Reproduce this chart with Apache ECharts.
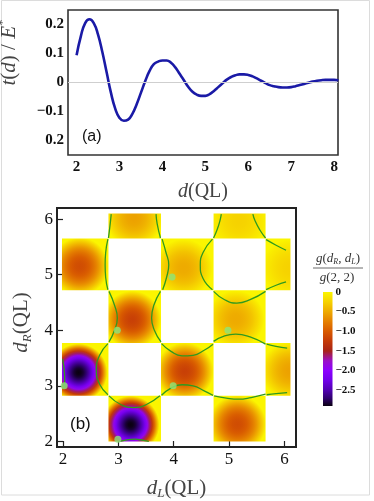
<!DOCTYPE html>
<html>
<head>
<meta charset="utf-8">
<script src="https://cdn.jsdelivr.net/npm/echarts@6/dist/echarts.min.js"></script>
<style>
  html, body { margin: 0; padding: 0; background: #fff; }
  #chart { width: 374px; height: 501px; }
</style>
</head>
<body>
<div id="chart"></div>
<script>
// panel (a): t(d) / E*
const dValues = [2.0, 2.1, 2.2, 2.3, 2.4, 2.5, 2.6, 2.7, 2.8, 2.9, 3.0, 3.1, 3.2, 3.3, 3.4, 3.5, 3.6, 3.7, 3.8, 3.9,
  4.0, 4.1, 4.2, 4.3, 4.4, 4.5, 4.6, 4.7, 4.8, 4.9, 5.0, 5.1, 5.2, 5.3, 5.4, 5.5, 5.6, 5.7, 5.8, 5.9,
  6.0, 6.1, 6.2, 6.3, 6.4, 6.5, 6.6, 6.7, 6.8, 6.9, 7.0, 7.1, 7.2, 7.3, 7.4, 7.5, 7.6, 7.7, 7.8, 7.9, 8.0, 8.1]
const tValues = [0.094, 0.16, 0.205, 0.218, 0.205, 0.165, 0.105, 0.035, -0.035, -0.09, -0.122, -0.132, -0.128, -0.108, -0.075, -0.035, 0.005, 0.04, 0.063, 0.072,
  0.076, 0.076, 0.068, 0.052, 0.03, 0.008, -0.015, -0.032, -0.042, -0.046, -0.046, -0.04, -0.029, -0.016, -0.003, 0.01, 0.019, 0.025, 0.028, 0.028,
  0.026, 0.021, 0.014, 0.006, -0.002, -0.009, -0.013, -0.016, -0.017, -0.017, -0.016, -0.013, -0.009, -0.005, -0.001, 0.003, 0.006, 0.008, 0.009, 0.009, 0.009, 0.008]
const dTicks = [2, 3, 4, 5, 6, 7, 8]
const tTicks = [-0.2, -0.1, 0, 0.1, 0.2]
const tTickLabels = ['0.2', '−0.1', '0', '0.1', '0.2']

// panel (b): g(dR, dL) / g(2, 2)
const edgesL = [1.98, 2.82, 3.77, 4.72, 5.66, 6.11]
const edgesR = [2.0, 2.82, 3.77, 4.72, 5.65, 6.1]
const cellCol = [1, 3, 0, 2, 4, 1, 3, 0, 2, 4, 1, 3]
const cellRow = [0, 0, 1, 1, 1, 2, 2, 3, 3, 3, 4, 4]
const cellMin = [-2.9, -1.1, -2.9, -1.2, -0.55, -1.2, -0.5, -1.1, -0.5, -0.25, -0.55, -0.25]
const cellPeakL = [3.22, 5.15, 2.28, 4.2, 6.1, 3.25, 5.12, 2.3, 4.18, 6.11, 3.28, 5.18]
const cellPeakR = [2.3, 2.31, 3.24, 3.26, 3.27, 4.19, 4.2, 5.15, 5.12, 5.12, 6.02, 5.97]
const dotL = [2.02, 2.99, 2.98, 3.99, 3.97, 4.98]
const dotR = [3.0, 2.04, 4.0, 3.0, 4.96, 4.0]
const contourLines = [
  [[2.87, 6.09], [2.85, 5.9], [2.82, 5.66]],
  [[3.68, 6.09], [3.7, 5.92], [3.76, 5.66]],
  [[4.86, 6.09], [4.83, 5.95], [4.78, 5.8], [4.72, 5.66]],
  [[5.43, 6.09], [5.47, 5.97], [5.56, 5.8], [5.66, 5.66]],
  [[2.81, 5.64], [2.77, 5.4], [2.76, 5.18], [2.77, 4.95], [2.81, 4.73]],
  [[3.79, 5.64], [3.86, 5.4], [3.91, 5.18], [3.87, 4.95], [3.8, 4.73]],
  [[4.7, 5.64], [4.53, 5.4], [4.48, 5.17], [4.53, 4.93], [4.7, 4.73]],
  [[5.67, 5.63], [5.85, 5.53], [6.03, 5.44]],
  [[5.67, 4.73], [5.85, 4.81], [6.03, 4.87]],
  [[2.83, 4.7], [2.93, 4.45], [2.98, 4.22], [2.93, 4.0], [2.83, 3.79]],
  [[3.76, 4.7], [3.64, 4.45], [3.6, 4.22], [3.65, 4.0], [3.77, 3.79]],
  [[4.72, 4.7], [4.92, 4.55], [5.14, 4.49], [5.38, 4.55], [5.66, 4.7]],
  [[4.72, 3.8], [4.92, 3.9], [5.12, 3.93], [5.38, 3.88], [5.66, 3.75]],
  [[2.81, 3.76], [2.66, 3.55], [2.6, 3.28], [2.66, 3.03], [2.81, 2.84]],
  [[1.99, 3.48], [2.02, 3.3], [2.03, 3.1], [2.01, 2.95]],
  [[3.78, 3.76], [3.95, 3.62], [4.15, 3.54], [4.35, 3.55], [4.55, 3.64], [4.71, 3.75]],
  [[3.78, 2.83], [3.95, 2.96], [4.15, 3.02], [4.35, 3.0], [4.55, 2.91], [4.71, 2.83]],
  [[5.68, 3.75], [5.85, 3.71], [6.05, 3.68]],
  [[5.68, 2.84], [5.85, 2.86], [6.05, 2.88]],
  [[2.83, 2.82], [3.05, 2.66], [3.28, 2.61], [3.5, 2.66], [3.75, 2.82]],
  [[3.02, 2.0], [3.15, 2.03], [3.3, 2.04], [3.45, 2.02], [3.55, 2.0]],
  [[4.73, 2.82], [4.95, 2.78], [5.17, 2.76], [5.4, 2.79], [5.66, 2.85]]
]
const gTicks = [2, 3, 4, 5, 6]
const barTicks = [0, -0.5, -1, -1.5, -2, -2.5]
const barRange = [-2.9, 0]

// colour scale (value -> colour), yellow at 0 down to black
const cmap = [
  [0, [251, 245, 0]], [-0.25, [246, 210, 0]], [-0.5, [238, 170, 0]], [-0.75, [229, 128, 0]],
  [-1.0, [216, 90, 0]], [-1.25, [196, 58, 8]], [-1.5, [168, 36, 24]], [-1.75, [154, 16, 200]],
  [-2.0, [140, 0, 255]], [-2.25, [112, 0, 232]], [-2.5, [80, 0, 176]], [-2.7, [48, 0, 112]], [-2.9, [10, 0, 16]]
]
const colorAt = (v) => {
  if (v >= cmap[0][0]) return 'rgb(' + cmap[0][1].join(',') + ')'
  for (let k = 1; k < cmap.length; k++) {
    if (v >= cmap[k][0]) {
      const a = cmap[k - 1], b = cmap[k]
      const f = (a[0] - v) / (a[0] - b[0])
      const c = a[1].map((x, n) => Math.round(x + (b[1][n] - x) * f))
      return 'rgb(' + c.join(',') + ')'
    }
  }
  return 'rgb(' + cmap[cmap.length - 1][1].join(',') + ')'
}
// depth profile of one well, used only for the gradient stops
const wellStops = (vmin) => {
  const stops = []
  for (let k = 0; k <= 12; k++) {
    const t = k / 12
    stops.push({ offset: t, color: colorAt(vmin * (1 - t * t)) })
  }
  return stops
}
const wellRadius = 0.52

const cells = cellCol.map((c, k) => [
  edgesL[c], edgesL[c + 1], edgesR[cellRow[k]], edgesR[cellRow[k] + 1], cellMin[k], cellPeakL[k], cellPeakR[k]
])

const serif = 'Liberation Serif'
const nameRich = (size) => ({
  i: { fontFamily: serif, fontStyle: 'italic', fontSize: size, color: '#444' },
  r: { fontFamily: serif, fontSize: size, color: '#444' },
  sub: { fontFamily: serif, fontStyle: 'italic', fontSize: size * 0.62, color: '#444', padding: [size * 0.55, 0, 0, 0] },
  sup: { fontFamily: serif, fontSize: size * 0.62, color: '#444', padding: [0, 0, size * 0.6, 0] }
})

const contourSeries = contourLines.map((pts) => ({
  type: 'line',
  xAxisIndex: 1,
  yAxisIndex: 1,
  data: pts,
  smooth: true,
  symbol: 'none',
  silent: true,
  z: 4,
  lineStyle: { color: '#2f9a1e', width: 1.3 }
}))

const option = {
  animation: false,
  backgroundColor: '#fff',
  grid: [
    { left: 68, top: 10, width: 270, height: 145, show: true, borderColor: '#333', borderWidth: 1.6, outerBoundsMode: 'none', containLabel: false },
    { left: 57, top: 208, width: 239, height: 239, show: true, borderColor: '#222', borderWidth: 2, outerBoundsMode: 'none', containLabel: false },
    { left: 323, top: 292, width: 9.5, height: 114, outerBoundsMode: 'none', containLabel: false }
  ],
  xAxis: [
    {
      gridIndex: 0, type: 'value', min: 1.8, max: 8.09,
      axisLine: { show: false }, axisTick: { show: false }, splitLine: { show: false },
      axisLabel: { customValues: dTicks, fontFamily: serif, fontWeight: 'bold', fontSize: 15, color: '#111', margin: 5 },
      name: '{i|d}{r|(QL)}', nameLocation: 'middle', nameGap: 27,
      nameTextStyle: { rich: nameRich(20) }
    },
    {
      gridIndex: 1, type: 'value', min: 1.89, max: 6.21,
      axisLine: { show: false }, splitLine: { show: false },
      axisTick: { show: true, inside: true, length: 6, customValues: gTicks, lineStyle: { color: '#222', width: 1.2 } },
      axisLabel: { customValues: gTicks, fontFamily: serif, fontSize: 17, color: '#111', margin: 4 },
      name: '{i|d}{sub|L}{r|(QL)}', nameLocation: 'middle', nameGap: 29,
      nameTextStyle: { rich: nameRich(21) }
    },
    { gridIndex: 2, type: 'value', min: 0, max: 1, show: false }
  ],
  yAxis: [
    {
      gridIndex: 0, type: 'value', min: -0.25, max: 0.25,
      axisLine: { show: false }, axisTick: { show: false }, splitLine: { show: false },
      axisLabel: {
        customValues: tTicks, fontFamily: serif, fontWeight: 'bold', fontSize: 15, color: '#111', margin: 4,
        formatter: (v) => tTickLabels[tTicks.findIndex((t) => Math.abs(t - v) < 1e-9)]
      },
      name: '{i|t}{r|(}{i|d}{r|) / }{i|E}{sup|*}', nameLocation: 'middle', nameGap: 46,
      nameTextStyle: { rich: nameRich(21), padding: [0, 0, 0, 60] }
    },
    {
      gridIndex: 1, type: 'value', min: 1.9, max: 6.2,
      axisLine: { show: false }, splitLine: { show: false },
      axisTick: { show: true, inside: true, length: 6, customValues: gTicks, lineStyle: { color: '#222', width: 1.2 } },
      axisLabel: { customValues: gTicks, fontFamily: serif, fontSize: 17, color: '#111', margin: 4 },
      name: '{i|d}{sub|R}{r|(QL)}', nameLocation: 'middle', nameGap: 21,
      nameTextStyle: { rich: nameRich(21), padding: [0, 0, 0, 10] }
    },
    {
      gridIndex: 2, type: 'value', min: barRange[0], max: barRange[1], position: 'right',
      axisLine: { show: false }, axisTick: { show: false }, splitLine: { show: false },
      axisLabel: {
        customValues: barTicks, fontFamily: serif, fontWeight: 'bold', fontSize: 11, color: '#111', margin: 3,
        formatter: (v) => (v === 0 ? '0' : '−' + Math.abs(v).toFixed(1))
      }
    }
  ],
  series: [
    {
      type: 'line',
      xAxisIndex: 0,
      yAxisIndex: 0,
      data: dValues.map((d, k) => [d, tValues[k]]),
      smooth: true,
      symbol: 'none',
      z: 3,
      lineStyle: { color: '#1a1aa6', width: 2.6 },
      markLine: {
        silent: true,
        symbol: 'none',
        label: { show: false },
        lineStyle: { color: '#cfcfcf', width: 1, type: 'solid' },
        data: [{ yAxis: 0 }]
      }
    },
    {
      type: 'custom',
      xAxisIndex: 1,
      yAxisIndex: 1,
      data: cells,
      z: 2,
      silent: true,
      renderItem: (params, api) => {
        const tl = api.coord([api.value(0), api.value(3)])
        const br = api.coord([api.value(1), api.value(2)])
        const c = api.coord([api.value(5), api.value(6)])
        const r = api.size([wellRadius, 0])[0]
        return {
          type: 'rect',
          shape: { x: tl[0], y: tl[1], width: br[0] - tl[0], height: br[1] - tl[1] },
          style: { fill: new echarts.graphic.RadialGradient(c[0], c[1], r, wellStops(api.value(4)), true) }
        }
      }
    },
    ...contourSeries,
    {
      type: 'scatter',
      xAxisIndex: 1,
      yAxisIndex: 1,
      data: dotL.map((x, k) => [x, dotR[k]]),
      symbolSize: 7,
      z: 5,
      itemStyle: { color: '#8be67a' }
    },
    {
      type: 'custom',
      xAxisIndex: 2,
      yAxisIndex: 2,
      data: [barRange],
      silent: true,
      renderItem: (params, api) => {
        const top = api.coord([0, api.value(1)])
        const bottom = api.coord([1, api.value(0)])
        const span = barRange[1] - barRange[0]
        const stops = cmap.map((s) => ({ offset: (barRange[1] - s[0]) / span, color: 'rgb(' + s[1].join(',') + ')' }))
        return {
          type: 'rect',
          shape: { x: top[0], y: top[1], width: bottom[0] - top[0], height: bottom[1] - top[1] },
          style: { fill: new echarts.graphic.LinearGradient(0, 0, 0, 1, stops) }
        }
      }
    }
  ],
  graphic: [
    { type: 'rect', shape: { x: 1.5, y: 0.5, width: 368, height: 494.5 }, style: { fill: 'none', stroke: '#dcdcdc', lineWidth: 1 }, silent: true },
    { type: 'text', left: 82, top: 129, style: { text: '(a)', font: '16px "Liberation Sans"', fill: '#111' } },
    { type: 'text', left: 70, top: 416, style: { text: '(b)', font: '17px "Liberation Sans"', fill: '#111' } },
    {
      type: 'text', x: 338, y: 259,
      style: {
        text: '{i|g}{r|(}{i|d}{s|R}{r|, }{i|d}{s|L}{r|)}',
        align: 'center', verticalAlign: 'middle',
        rich: {
          i: { fontFamily: serif, fontStyle: 'italic', fontSize: 13, fill: '#333' },
          r: { fontFamily: serif, fontSize: 13, fill: '#333' },
          s: { fontFamily: serif, fontStyle: 'italic', fontSize: 8, fill: '#333', padding: [6, 0, 0, 0] }
        }
      }
    },
    { type: 'line', shape: { x1: 313, y1: 268, x2: 363, y2: 268 }, style: { stroke: '#444', lineWidth: 0.8 } },
    {
      type: 'text', x: 337, y: 278,
      style: {
        text: '{i|g}{r|(2, 2)}', align: 'center', verticalAlign: 'middle',
        rich: {
          i: { fontFamily: serif, fontStyle: 'italic', fontSize: 13, fill: '#333' },
          r: { fontFamily: serif, fontSize: 13, fill: '#333' }
        }
      }
    }
  ]
}

const chart = echarts.init(document.getElementById('chart'))
chart.setOption(option)
</script>
</body>
</html>
